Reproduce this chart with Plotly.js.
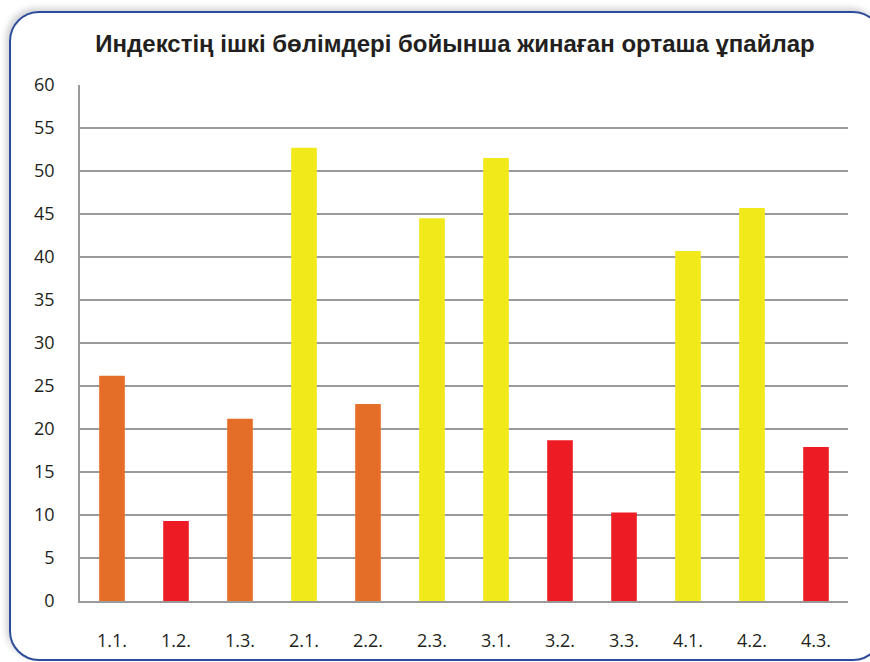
<!DOCTYPE html>
<html>
<head>
<meta charset="utf-8">
<script src="https://cdn.plot.ly/plotly-3.0.1.min.js"></script>
<style>
  html, body { margin: 0; padding: 0; background: #fff; }
  #frame {
    position: absolute; left: 9px; top: 11px; width: 870px; height: 646px;
    border: 2px solid #2c4b9b; border-radius: 30px;
    box-shadow: -3px -3px 6px rgba(0,0,0,0.18);
  }
  #myGraph { position: absolute; left: 0; top: 0; width: 870px; height: 662px; }
</style>
</head>
<body>
<div id="frame"></div>
<div id="myGraph"></div>
<script>
// 資料
let sections = ['1.1.', '1.2.', '1.3.', '2.1.', '2.2.', '2.3.', '3.1.', '3.2.', '3.3.', '4.1.', '4.2.', '4.3.'];
let scores = [26.2, 9.3, 21.2, 52.7, 22.9, 44.5, 51.5, 18.7, 10.3, 40.7, 45.7, 17.9];
let levels = ['mid', 'low', 'mid', 'high', 'mid', 'high', 'high', 'low', 'low', 'high', 'high', 'low'];
let yTicks = [0, 5, 10, 15, 20, 25, 30, 35, 40, 45, 50, 55, 60];

// 顏色
let levelColor = { high: '#f2e91b', mid: '#e46d27', low: '#ed1c24' };

let myGraph = document.getElementById('myGraph');

let trace1 = {
    type: 'bar',
    x: sections,
    y: scores,
    marker: {
        color: levels.map(function (l) { return levelColor[l]; })
    },
    hoverinfo: 'x+y'
};

let layout = {
    width: 870,
    height: 662,
    margin: { t: 85, r: 22, l: 80, b: 61 },
    paper_bgcolor: 'rgba(0,0,0,0)',
    plot_bgcolor: 'rgba(0,0,0,0)',
    bargap: 0.6,
    showlegend: false,
    font: { family: 'Open Sans, sans-serif', color: '#231f20' },
    title: {
        text: '<b>Индекстің ішкі бөлімдері бойынша жинаған орташа ұпайлар</b>',
        font: { family: 'Liberation Sans, Arial, sans-serif', size: 24, color: '#231f20' },
        x: 0.523, xanchor: 'center',
        y: 0.934, yanchor: 'middle'
    },
    xaxis: {
        type: 'category',
        showgrid: false,
        showline: true,
        linecolor: '#9a9a9a',
        linewidth: 2,
        ticks: '',
        ticklabelstandoff: 22,
        tickfont: { size: 18, color: '#231f20' }
    },
    yaxis: {
        range: [0, 60],
        tickvals: yTicks,
        showgrid: true,
        gridcolor: '#9a9a9a',
        gridwidth: 1.5,
        zeroline: false,
        showline: true,
        linecolor: '#9a9a9a',
        linewidth: 1.5,
        ticks: '',
        ticklabelstandoff: 20,
        tickfont: { size: 18, color: '#231f20' }
    }
};

Plotly.newPlot(myGraph, [trace1], layout, { displayModeBar: false });
</script>
</body>
</html>
